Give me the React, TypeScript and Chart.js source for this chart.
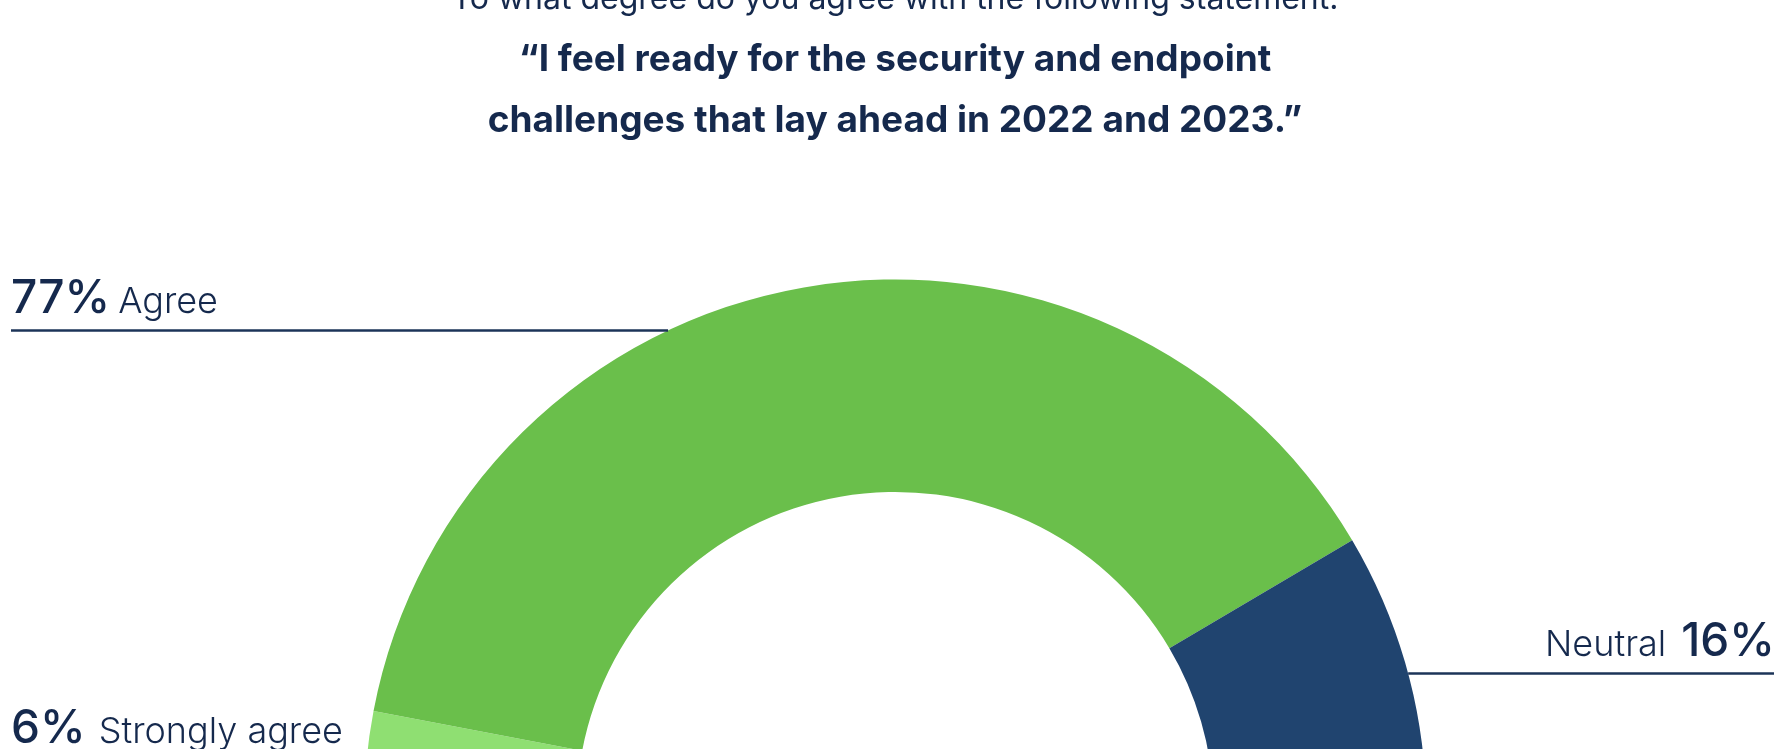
import React, { useEffect, useRef } from "react";
import { Chart, registerables } from "chart.js";

Chart.register(...registerables);

// ---- data ----
const categories = ["Strongly agree", "Agree", "Neutral"];
const values = [6, 77, 16];
const sliceColors = ["#8fdf72", "#6abf4b", "#20446f"];
const questionLine = "To what degree do you agree with the following statement:";
const statementLines = [
  "“I feel ready for the security and endpoint",
  "challenges that lay ahead in 2022 and 2023.”",
];

const TEXT = "#15294d";
const LINE = "#1c3458";

// annotation leader lines (y in page px, side of the chart)
const leaders = [
  { y: 330.5, side: "left", from: 11 },
  { y: 673.5, side: "right", from: 0 },
];

const leaderPlugin = {
  id: "leaders",
  afterDatasetsDraw(chart: any) {
    const meta = chart.getDatasetMeta(0);
    const arc = meta.data[0];
    if (!arc) return;
    const { x, y, outerRadius } = arc.getProps(["x", "y", "outerRadius"], true);
    const ctx = chart.ctx;
    ctx.save();
    ctx.strokeStyle = LINE;
    ctx.lineWidth = 2.5;
    for (const l of leaders) {
      const dy = y - l.y;
      const dx = Math.sqrt(Math.max(outerRadius * outerRadius - dy * dy, 0));
      ctx.beginPath();
      if (l.side === "left") {
        ctx.moveTo(l.from, l.y);
        ctx.lineTo(x - dx, l.y);
      } else {
        ctx.moveTo(x + dx, l.y);
        ctx.lineTo(chart.width, l.y);
      }
      ctx.stroke();
    }
    ctx.restore();
  },
};

function Label(props: { left: number; top: number; num: string; text: string; numFirst: boolean; gap: number }) {
  const num = <span style={{ fontWeight: 500, fontSize: 46 }}>{props.num}</span>;
  const txt = <span style={{ fontWeight: 300, fontSize: 36 }}>{props.text}</span>;
  return (
    <div
      style={{
        position: "absolute",
        left: props.left,
        top: props.top,
        whiteSpace: "nowrap",
        color: TEXT,
        fontFamily: "Inter, 'Noto Sans', sans-serif",
        lineHeight: "60px",
      }}
    >
      {props.numFirst ? (
        <>
          {num}
          <span style={{ display: "inline-block", width: props.gap }} />
          {txt}
        </>
      ) : (
        <>
          {txt}
          <span style={{ display: "inline-block", width: props.gap }} />
          {num}
        </>
      )}
    </div>
  );
}

export default function App() {
  const canvasRef = useRef<HTMLCanvasElement | null>(null);

  useEffect(() => {
    const total = values.reduce((a, b) => a + b, 0);
    const chart = new Chart(canvasRef.current as HTMLCanvasElement, {
      type: "doughnut",
      data: {
        labels: categories,
        datasets: [
          {
            data: values,
            backgroundColor: sliceColors,
            borderWidth: 0,
          },
        ],
      },
      options: {
        animation: false,
        responsive: true,
        maintainAspectRatio: false,
        rotation: -90,
        circumference: (180 * total) / 100,
        radius: 531,
        cutout: "60%",
        layout: { padding: 0 },
        plugins: {
          legend: { display: false },
          tooltip: { enabled: false },
        },
      },
      plugins: [leaderPlugin],
    });
    return () => chart.destroy();
  }, []);

  return (
    <div style={{ position: "fixed", inset: 0, overflow: "hidden", background: "#ffffff" }}>
      <div style={{ position: "absolute", left: 0, top: 0, width: 1790, height: 1090 }}>
        <canvas ref={canvasRef} />
      </div>
      <div
        style={{
          position: "absolute",
          left: 0,
          top: 0,
          width: 1790,
          textAlign: "center",
          color: TEXT,
          fontFamily: "Inter, 'Noto Sans', sans-serif",
        }}
      >
        <div style={{ position: "absolute", left: 0, right: 0, top: -22, fontSize: 32, lineHeight: "40px", fontWeight: 400 }}>
          {questionLine}
        </div>
        <div style={{ position: "absolute", left: 0, right: 0, top: 27, fontSize: 37, lineHeight: "61px", fontWeight: 700 }}>
          {statementLines.map((s, i) => (
            <div key={i}>{s}</div>
          ))}
        </div>
      </div>
      <Label left={11} top={266} num="77%" text="Agree" numFirst={true} gap={8} />
      <Label left={1545} top={609} num="16%" text="Neutral" numFirst={false} gap={15} />
      <Label left={11} top={696} num="6%" text="Strongly agree" numFirst={true} gap={13} />
    </div>
  );
}
